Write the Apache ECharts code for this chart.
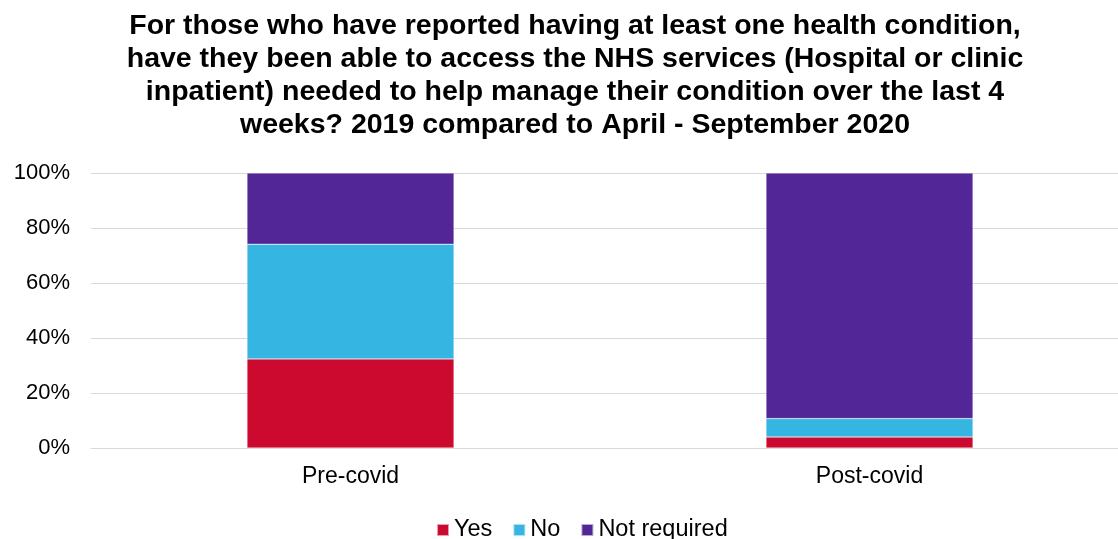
<!DOCTYPE html>
<html><head><meta charset="utf-8">
<script src="https://cdn.jsdelivr.net/npm/echarts@6/dist/echarts.min.js"></script>
<style>html,body{margin:0;padding:0;background:#fff;overflow:hidden}#c{width:1130px;height:539px}</style>
</head><body><div id="c"></div>
<script>
const titleText = "For those who have reported having at least one health condition,\nhave they been able to access the NHS services (Hospital or clinic\ninpatient) needed to help manage their condition over the last 4\nweeks? 2019 compared to April - September 2020";
const categories = ["Pre-covid", "Post-covid"];
const yesValues = [32.4, 4.0];
const noValues = [41.7, 6.7];
const notRequiredValues = [25.9, 89.3];
const yTicks = [0, 20, 40, 60, 80, 100];

const chart = echarts.init(document.getElementById('c'), null, {renderer: 'canvas'});
const font = "'Liberation Sans', Arial, sans-serif";
function mk(name, data, color) {
  return {name, type: 'bar', stack: 's', data, barWidth: 207,
    itemStyle: {color, borderColor: 'rgba(255,255,255,0.6)', borderWidth: 0.5}};
}
chart.setOption({
  animation: false,
  title: {text: titleText, left: 570, textAlign: 'center', top: 5,
    textStyle: {fontFamily: font, fontSize: 28.5, fontWeight: 'bold', color: '#000', lineHeight: 33}},
  legend: {top: 513, left: 431, itemWidth: 12, itemHeight: 12, itemGap: 20,
    icon: 'rect', textStyle: {fontFamily: font, fontSize: 23.5, color: '#000'},
    data: ['Yes', 'No', 'Not required']},
  grid: {left: 91, top: 173, right: 1, height: 275, containLabel: false},
  xAxis: {type: 'category', data: categories,
    axisLine: {show: true, lineStyle: {color: '#d9d9d9', width: 1}}, axisTick: {show: false},
    axisLabel: {fontFamily: font, fontSize: 23, color: '#000', margin: 17}},
  yAxis: {type: 'value', min: 0, max: 100, interval: 20,
    axisLine: {show: false}, axisTick: {show: false},
    splitLine: {lineStyle: {color: '#d9d9d9', width: 1}},
    axisLabel: {fontFamily: font, fontSize: 22, color: '#000', margin: 21,
      formatter: v => yTicks.includes(v) ? v + '%' : ''}},
  series: [
    mk('Yes', yesValues, '#cc0a30'),
    mk('No', noValues, '#35b5e2'),
    mk('Not required', notRequiredValues, '#522696')
  ]
});
</script></body></html>
